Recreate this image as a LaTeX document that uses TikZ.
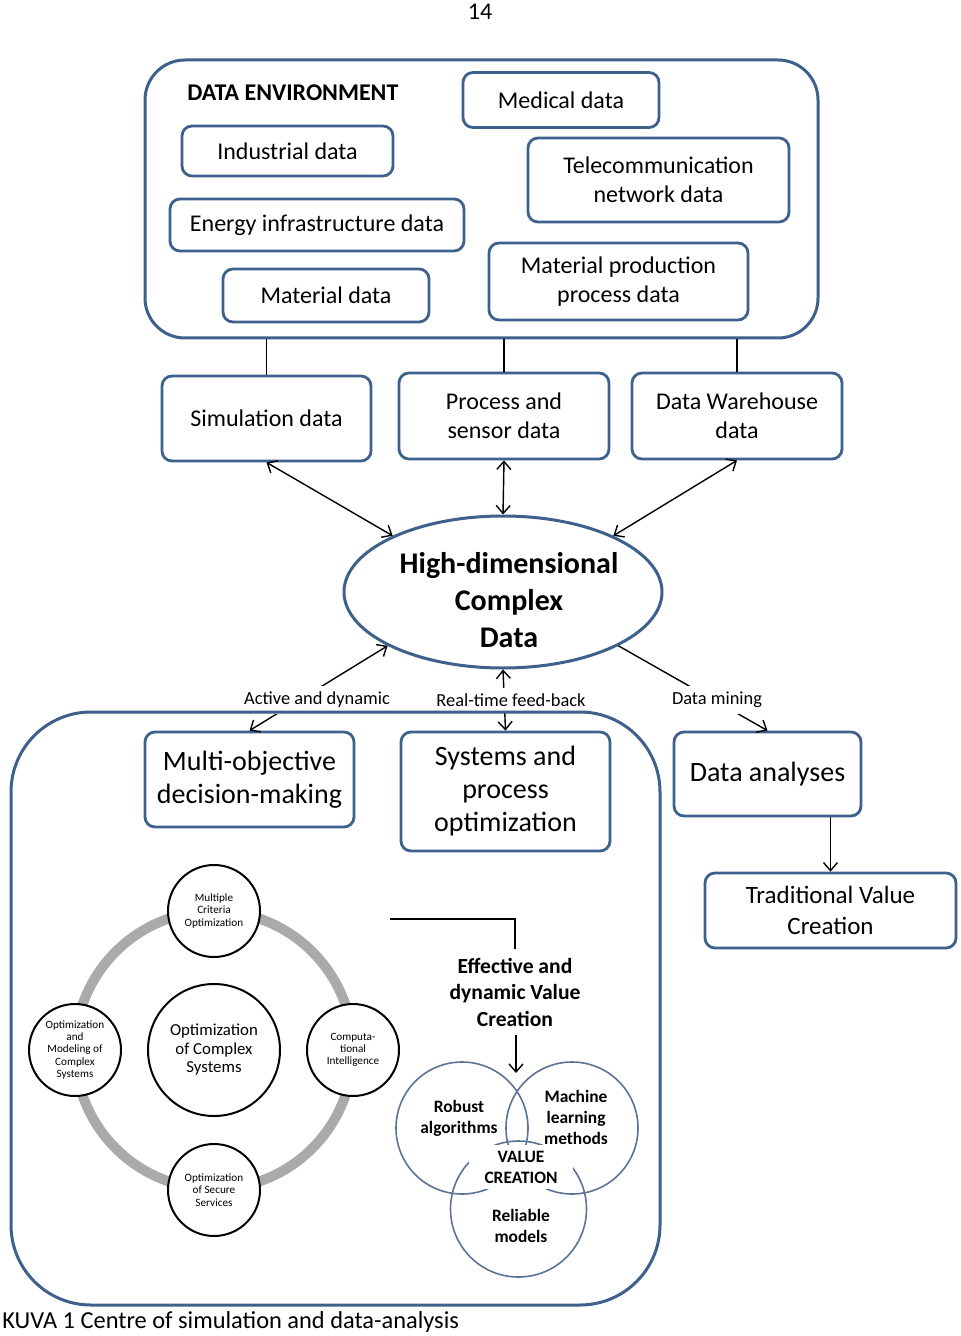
\documentclass[tikz,border=0pt]{standalone}
\usepackage{fontspec}
\setmainfont{Carlito}
\usetikzlibrary{shapes.geometric,arrows.meta}

\begin{document}
\begin{tikzpicture}[x=0.5pt, y=-0.5pt, >={Straight Barb[length=4pt,width=7pt]},
    every node/.style={align=center, inner sep=2pt}]
  \definecolor{frameblue}{RGB}{62,96,140}
  \definecolor{ringgray}{RGB}{170,170,170}
  \definecolor{vennblue}{RGB}{90,115,150}
  \tikzset{
    databox/.style={draw=frameblue, line width=1.4pt, rounded corners=5pt, font=\fontsize{12}{14.5}\selectfont},
    bigbox/.style={databox, font=\fontsize{14}{16.5}\selectfont},
    bigframe/.style={draw=frameblue, line width=1.5pt, rounded corners=20pt},
    ringnode/.style={circle, draw, line width=1pt, fill=white, inner sep=0pt, minimum size=46pt, font=\fontsize{5.6}{6.1}\selectfont},
    flowlabel/.style={fill=white, inner xsep=1pt, inner ysep=3pt, font=\fontsize{9.2}{11}\selectfont},
    venntext/.style={inner sep=1pt, font=\bfseries\fontsize{8.7}{10.5}\selectfont},
    link/.style={line width=0.7pt}
  }
  \useasboundingbox (0,0) rectangle (960,1336);

  \node[font=\fontsize{12}{14}\selectfont] (pgno) at (480,12) {14};

  % data environment
  \node[bigframe, minimum width=336.5pt, minimum height=139pt] (env) at (481.5,199) {};
  \node[anchor=west, font=\bfseries\fontsize{12}{14}\selectfont] (envtitle) at (183,93) {DATA ENVIRONMENT};
  \node[databox, minimum width=98pt, minimum height=27.5pt] (med) at (561,100) {Medical data};
  \node[databox, minimum width=105.5pt, minimum height=25pt] (ind) at (287.5,151) {Industrial data};
  \node[databox, minimum width=130.5pt, minimum height=42pt] (tel) at (658.5,180) {Telecommunication\\network data};
  \node[databox, minimum width=147pt, minimum height=26pt] (ene) at (317,225) {Energy infrastructure data};
  \node[databox, minimum width=103pt, minimum height=26.5pt] (mat) at (326,295.5) {Material data};
  \node[databox, minimum width=129.5pt, minimum height=38.5pt] (mpp) at (618.5,281.5) {Material production\\process data};

  \node[databox, minimum width=104.5pt, minimum height=42.5pt] (sim) at (266.5,418.5) {Simulation data};
  \node[databox, minimum width=105pt, minimum height=43pt] (ps) at (504,416) {Process and\\sensor data};
  \node[databox, minimum width=105pt, minimum height=43pt] (dw) at (737,416) {Data Warehouse\\data};
  \draw[link] (env.south -| sim.north) -- (sim.north);
  \draw[link] (env.south -| ps.north) -- (ps.north);
  \draw[link] (env.south -| dw.north) -- (dw.north);

  \node[ellipse, draw=frameblue, line width=1.5pt, minimum width=159pt, minimum height=76pt, inner sep=0pt] (hd) at (503,592) {};
  \node[inner sep=0pt, font=\bfseries\fontsize{15}{18.5}\selectfont] (hdtext) at (509,600) {High-dimensional\\Complex\\Data};

  \node[bigbox, minimum width=104.5pt, minimum height=47.5pt] (multi) at (249.5,779.5) {Multi-objective\\decision-making};
  \node[bigbox, minimum width=104.5pt, minimum height=59.5pt] (sys) at (505.5,791.5) {Systems and\\process\\optimization};
  \node[bigbox, minimum width=93.5pt, minimum height=42pt] (da) at (767.5,774) {Data analyses};
  \node[databox, minimum width=125.5pt, minimum height=37.5pt, font=\fontsize{12.5}{15.5}\selectfont] (tvc) at (830.5,910.5) {Traditional Value\\Creation};

  \draw[link, <->] (sim.south) -- (hd.153);
  \draw[link, <->] (ps.south) -- (hd.north);
  \draw[link, <->] (dw.south) -- (hd.27);
  \draw[link, <->] (hd.205) -- (multi.north);
  \draw[link, <->] (hd.south) -- (sys.north);
  \draw[link, ->] (hd.-25) -- (da.north);
  \draw[link, ->] (da.south -| tvc.north) -- (tvc.north);

  \node[flowlabel] (lbact) at (317,700) {Active and dynamic};
  \node[flowlabel] (lbreal) at (511,700) {Real-time feed-back};
  \node[flowlabel] (lbmine) at (717,700) {Data mining};

  \node[bigframe, rounded corners=40pt, minimum width=324.5pt, minimum height=296.5pt] (lower) at (335.5,1008.5) {};

  % ring of optimization topics
  \coordinate (ringc) at (214,1050);
  \draw[ringgray, line width=5pt] (ringc) circle (139);
  \node[ringnode] (mco) at (214,911) {Multiple\\Criteria\\Optimization};
  \node[ringnode] (ci) at (353,1050) {Computa-\\tional\\Intelligence};
  \node[ringnode] (oss) at (214,1190) {Optimization\\of Secure\\Services};
  \node[ringnode] (omc) at (75,1050) {Optimization\\and\\Modeling of\\Complex\\Systems};
  \node[ringnode, minimum size=66pt, font=\fontsize{8.4}{9.25}\selectfont] (ocs) at (ringc) {Optimization\\of Complex\\Systems};

  % value creation
  \coordinate (effin) at (390,919);
  \node[inner sep=4pt, font=\bfseries\fontsize{10.8}{13.25}\selectfont] (eff) at (515,992) {Effective and\\dynamic Value\\Creation};
  \draw[link] (effin) -| (eff.north);
  \coordinate (vtop) at (516,1073);
  \draw[link, ->] (eff.south -| vtop) -- (vtop);

  \draw[vennblue, line width=0.8pt] (462,1128) circle (66);
  \draw[vennblue, line width=0.8pt] (572,1128) circle (66);
  \draw[vennblue, line width=0.8pt] (518.5,1209) circle (68);
  \node[venntext] (rob) at (459,1118) {Robust\\algorithms};
  \node[venntext] (mlm) at (576,1117) {Machine\\learning\\methods};
  \node[venntext, fill=white, inner xsep=8pt, inner ysep=3pt] (vc) at (521,1167) {VALUE\\CREATION};
  \node[venntext] (rel) at (521,1226) {Reliable\\models};

  \node[anchor=west, inner sep=0pt, font=\fontsize{12.2}{14}\selectfont] (cap) at (2,1322) {KUVA 1 Centre of simulation and data-analysis};
\end{tikzpicture}
\end{document}
